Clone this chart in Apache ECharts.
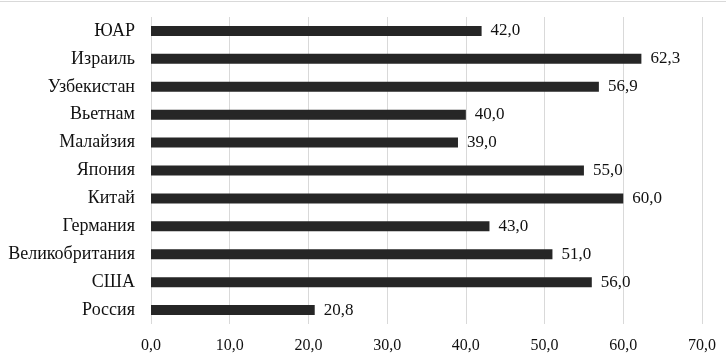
<!DOCTYPE html>
<html><head><meta charset="utf-8">
<script src="https://cdn.jsdelivr.net/npm/echarts@6/dist/echarts.min.js"></script>
<style>html,body{margin:0;padding:0;background:#fff}#c{width:726px;height:358px}</style>
</head><body><div id="c"></div>
<script>
const categories = ['ЮАР','Израиль','Узбекистан','Вьетнам','Малайзия','Япония','Китай','Германия','Великобритания','США','Россия'];
const values = [42.0,62.3,56.9,40.0,39.0,55.0,60.0,43.0,51.0,56.0,20.8];
const xTicks = [0,10,20,30,40,50,60,70];
const fmt = v => Number(v).toFixed(1).replace('.', ',');
const chart = echarts.init(document.getElementById('c'), null, {renderer:'canvas'});
const font = '"Liberation Serif","Times New Roman",serif';
chart.setOption({
  animation:false,
  textStyle:{fontFamily:font},
  graphic:[{type:'line',shape:{x1:0,y1:1.5,x2:726,y2:1.5},style:{stroke:'#d9d9d9',lineWidth:1}}],
  grid:{left:151,right:24,top:17,bottom:34},
  xAxis:{type:'value',min:xTicks[0],max:xTicks[xTicks.length-1],interval:10,
    axisLine:{show:false},axisTick:{show:false},
    splitLine:{show:true,lineStyle:{color:'#d9d9d9',width:1}},
    axisLabel:{formatter:fmt,color:'#111',fontSize:16,fontFamily:font,margin:14}},
  yAxis:{type:'category',data:categories,inverse:true,
    axisLine:{show:false},axisTick:{show:false},
    axisLabel:{color:'#111',fontSize:18,fontFamily:font,margin:16}},
  series:[{type:'bar',data:values,barWidth:10,itemStyle:{color:'#262626'},
    label:{show:true,position:'right',distance:9,formatter:p=>fmt(p.value),color:'#111',fontSize:17,fontFamily:font}}]
});
</script></body></html>
